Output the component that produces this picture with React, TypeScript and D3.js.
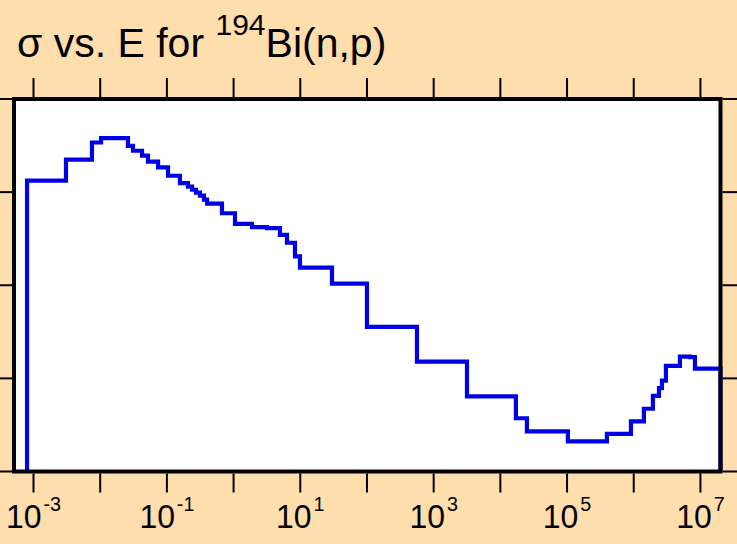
import React from "react";
import * as d3 from "d3";

const energyBounds: number[] = [
  8.0e-4, 3.07e-3, 7.53e-3, 1.03e-2, 2.61e-2, 3.1e-2, 4.24e-2, 5.21e-2, 7.37e-2,
  0.104, 0.157, 0.207, 0.238, 0.273, 0.313, 0.36, 0.4, 0.67, 1.05, 1.89, 3.17,
  4.96, 6.32, 8.33, 9.9, 29.9, 100, 562, 3160, 1.71e4, 2.5e4, 1.03e5, 3.96e5,
  9.08e5, 1.42e6, 1.94e6, 2.39e6, 2.65e6, 3.04e6, 4.93e6, 6.97e6, 8.28e6, 2e7,
];

const sigmaValues: number[] = [
  0.133, 0.223, 0.341, 0.38, 0.314, 0.278, 0.246, 0.213, 0.184, 0.15, 0.125,
  0.1145, 0.106, 0.0988, 0.0918, 0.0832, 0.0753, 0.0593, 0.0457, 0.0421, 0.041,
  0.0348, 0.0286, 0.0204, 0.0155, 0.0104, 0.00358, 0.00151, 6.41e-4, 3.73e-4,
  2.7e-4, 2.11e-4, 2.53e-4, 3.45e-4, 4.72e-4, 6.5e-4, 7.85e-4, 9.46e-4, 1.36e-3,
  1.71e-3, 1.69e-3, 1.27e-3,
];

const xTickExponents: number[] = [-3, -2, -1, 0, 1, 2, 3, 4, 5, 6, 7];
const xLabelExponents: string[] = ["-3", "-1", "1", "3", "5", "7"];
const yTickValues: number[] = [1e-4, 1e-3, 1e-2, 1e-1, 1];

const W = 737;
const H = 544;
const left = 14;
const right = 720.5;
const top = 99;
const bottom = 471.5;
const tickLen = 19;

export default function App() {
  const x = d3.scaleLog().domain([5.1e-4, 2e7]).range([left, right]);
  const y = d3.scaleLog().domain([1e-4, 1]).range([bottom, top]);

  const pts: [number, number][] = [];
  pts.push([energyBounds[0], 1e-4]);
  sigmaValues.forEach((v, i) => pts.push([energyBounds[i], v]));
  pts.push([energyBounds[energyBounds.length - 1], sigmaValues[sigmaValues.length - 1]]);
  pts.push([energyBounds[energyBounds.length - 1], 1e-4]);

  const line = d3
    .line<[number, number]>()
    .x((d) => x(d[0]))
    .y((d) => y(d[1]))
    .curve(d3.curveStepAfter);

  const font = "'Liberation Sans', Arial, sans-serif";

  return (
    <svg
      width={W}
      height={H}
      style={{ position: "absolute", left: 0, top: 0, display: "block" }}
    >
      <rect x={0} y={0} width={W} height={H} fill="#FEDEAC" />
      <rect x={left} y={top} width={right - left} height={bottom - top} fill="#ffffff" />
      {xTickExponents.map((e) => {
        const xp = x(Math.pow(10, e));
        return (
          <g key={"xt" + e} stroke="#000" strokeWidth={2}>
            <line x1={xp} x2={xp} y1={top - 2} y2={top - 2 - tickLen} />
            <line x1={xp} x2={xp} y1={bottom + 2} y2={bottom + 2 + tickLen} />
          </g>
        );
      })}
      {yTickValues.map((v) => {
        const yp = y(v);
        return (
          <g key={"yt" + v} stroke="#000" strokeWidth={2}>
            <line x1={left - 2} x2={left - 2 - tickLen} y1={yp} y2={yp} />
            <line x1={right + 2} x2={right + 2 + tickLen} y1={yp} y2={yp} />
          </g>
        );
      })}
      <path d={line(pts) || ""} fill="none" stroke="#0000E6" strokeWidth={4.2} />
      <rect
        x={left}
        y={top}
        width={right - left}
        height={bottom - top}
        fill="none"
        stroke="#000"
        strokeWidth={4}
      />
      {xLabelExponents.map((e) => {
        const xp = x(Math.pow(10, +e));
        return (
          <g key={"xl" + e} transform={`translate(${xp},528) scale(0.94,1)`}>
            <text textAnchor="middle" fontFamily={font} fill="#000">
              <tspan fontSize={34}>10</tspan>
              <tspan fontSize={21} dy={-17} dx={2}>{e}</tspan>
            </text>
          </g>
        );
      })}
      <text x={17} y={57} fontFamily={font} fontSize={41} fill="#000">
        <tspan>σ vs. E for </tspan>
        <tspan fontSize={30} dy={-22}>194</tspan>
        <tspan dy={22}>Bi(n,p)</tspan>
      </text>
    </svg>
  );
}
